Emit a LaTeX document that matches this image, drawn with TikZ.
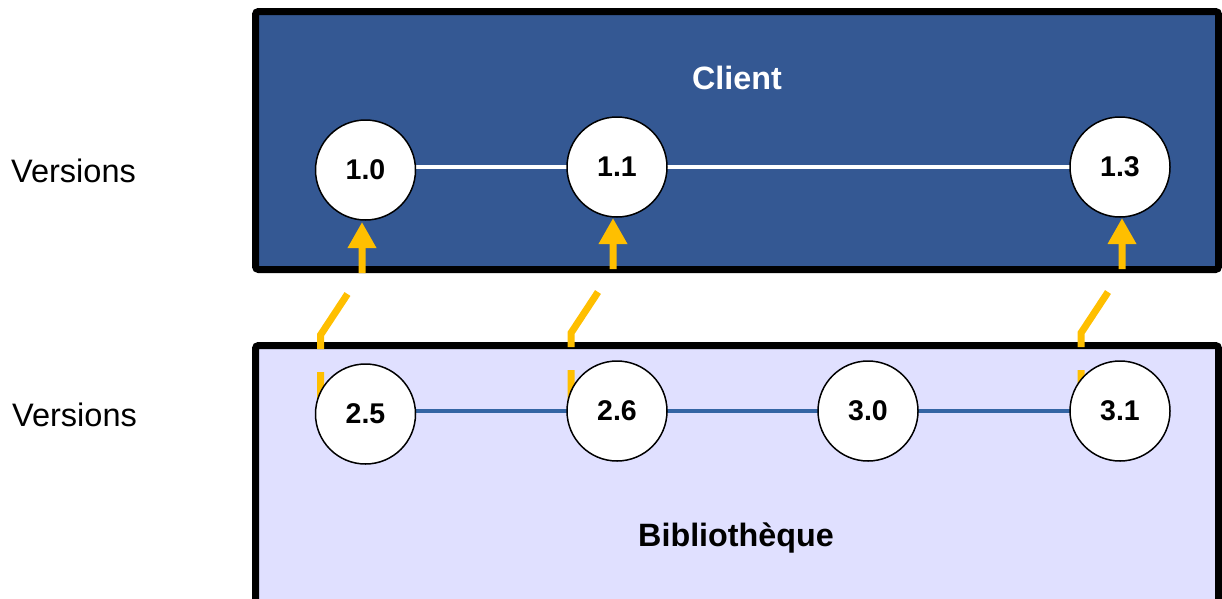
\documentclass[tikz,border=0pt]{standalone}
\usepackage{fontspec}
\setmainfont{Liberation Sans}
\usetikzlibrary{arrows.meta,calc}

\definecolor{clientblue}{RGB}{52,88,147}
\definecolor{libfill}{RGB}{224,224,255}
\definecolor{libline}{RGB}{52,101,164}
\definecolor{amber}{RGB}{255,191,0}

\tikzset{
  panel/.style={draw=black, line width=7pt, rounded corners=3pt},
  version/.style={circle, draw=black, line width=1.5pt, fill=white,
    minimum size=100pt, inner sep=0pt, font=\fontsize{28.5}{32}\selectfont\bfseries},
  rowlabel/.style={anchor=west, inner sep=0pt, font=\fontsize{32.5}{38}\selectfont},
  title/.style={inner sep=0pt, font=\fontsize{32.3}{38}\selectfont\bfseries},
  timeline/.style={line width=4pt},
  upgrade/.style={draw=amber, line width=7pt, line cap=butt,
    -{Triangle[width=27pt,length=26pt]}},
}

\begin{document}
\begin{tikzpicture}[x=1pt, y=-1pt]
  \clip (0,0) rectangle (1222,598);
  \fill[white] (0,0) rectangle (1222,598);

  % panels
  \draw[panel, fill=clientblue] (255.5,11.5) rectangle (1218.5,269.5);
  \draw[panel, fill=libfill] (255.5,345.5) rectangle (1218.5,640);

  % titles and row labels
  \node[title, text=white] (client) at (737,78) {Client};
  \node[title] (lib) at (736,538) {Bibliothèque};
  \node[rowlabel] (vtop) at (11,171) {Versions};
  \node[rowlabel] (vbot) at (12,415) {Versions};

  % upgrade connectors (drawn beneath the version circles)
  \coordinate (a1) at (320.5,412);  \coordinate (t1) at (362,222);
  \coordinate (a2) at (571,410);    \coordinate (t2) at (613,218);
  \coordinate (a3) at (1081,410);   \coordinate (t3) at (1122,218);
  \foreach \a/\t in {a1/t1,a2/t2,a3/t3} {
    \draw[upgrade]
      (\a) -- ($(\a)+(0,-40)$)
      ($(\a)+(0,-63)$) -- ($(\a)+(0,-77)$) -- ($(\a)+(27,-118)$)
      ($(\t)+(0,51)$) -- (\t);
  }

  % client versions
  \coordinate (c10) at (365.5,170);
  \coordinate (c11) at (617,167);
  \coordinate (c13) at (1120,167);
  % library versions
  \coordinate (l25) at (365.5,414);
  \coordinate (l26) at (617,411);
  \coordinate (l30) at (868,411);
  \coordinate (l31) at (1120,411);

  % timelines, behind the circles
  \draw[timeline, white] (c10 |- c11) -- (c11) -- (c13);
  \draw[timeline, libline] (l25 |- l26) -- (l26) -- (l30) -- (l31);

  \node[version] (v10) at (c10) {1.0};
  \node[version] (v11) at (c11) {1.1};
  \node[version] (v13) at (c13) {1.3};
  \node[version] (v25) at (l25) {2.5};
  \node[version] (v26) at (l26) {2.6};
  \node[version] (v30) at (l30) {3.0};
  \node[version] (v31) at (l31) {3.1};
\end{tikzpicture}
\end{document}
